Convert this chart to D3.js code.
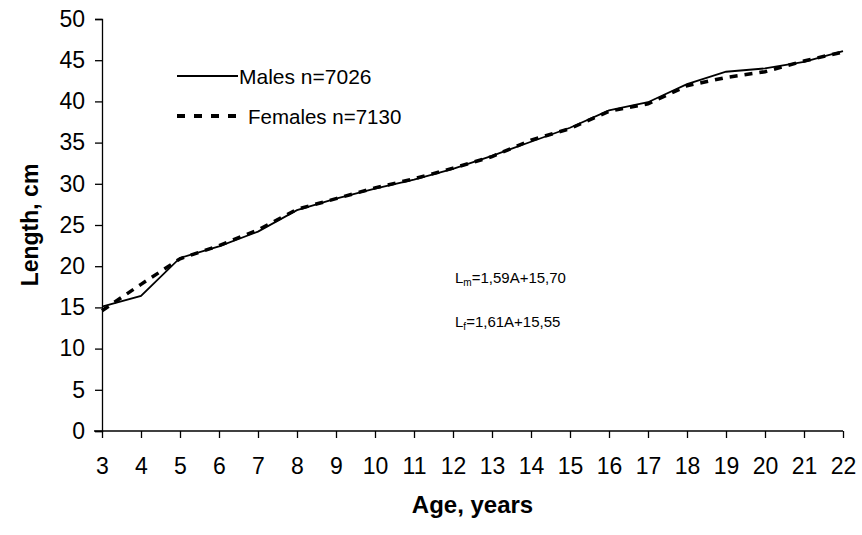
<!DOCTYPE html>
<html>
<head>
<meta charset="utf-8">
<script src="https://cdn.jsdelivr.net/npm/d3@7"></script>
<style>
  body { margin: 0; background: white; }
  text { font-family: "Liberation Sans", Arial, sans-serif; fill: black; }
</style>
</head>
<body>
<svg id="chart" width="862" height="535"></svg>
<script>
// ages on the x axis
const ages = [3, 4, 5, 6, 7, 8, 9, 10, 11, 12, 13, 14, 15, 16, 17, 18, 19, 20, 21, 22];
// mean length, cm
const males = [15.1, 16.4, 21.0, 22.4, 24.2, 26.8, 28.2, 29.4, 30.5, 31.8, 33.4, 35.1, 36.8, 38.9, 39.9, 42.1, 43.6, 44.0, 44.8, 46.1];
const females = [14.6, 17.8, 20.9, 22.5, 24.4, 26.9, 28.2, 29.5, 30.6, 31.9, 33.3, 35.3, 36.7, 38.8, 39.7, 41.9, 42.9, 43.6, 44.9, 46.0];
const yTicks = [0, 5, 10, 15, 20, 25, 30, 35, 40, 45, 50];
const legendLabels = ["Males n=7026", "Females n=7130"];

const svg = d3.select("#chart");
const margin = { top: 19, right: 19, bottom: 104, left: 102 };
const width = 862, height = 535;

const x = d3.scaleLinear()
    .domain([3, 22])
    .range([margin.left, width - margin.right]);

const y = d3.scaleLinear()
    .domain([0, 50])
    .range([height - margin.bottom, margin.top]);

// y axis
const yAxis = svg.append("g")
    .attr("transform", `translate(${margin.left},0)`)
    .call(d3.axisLeft(y).tickValues(yTicks).tickSize(7).tickPadding(10));
yAxis.selectAll("text").style("font-size", "23px").attr("fill", "black");
yAxis.selectAll("line, path").attr("stroke", "black").attr("stroke-width", 1.3);

// x axis
const xAxis = svg.append("g")
    .attr("transform", `translate(0,${y(0)})`)
    .call(d3.axisBottom(x).tickValues(ages).tickFormat(d3.format("d")).tickSize(7).tickPadding(20));
xAxis.selectAll("text").style("font-size", "23px").attr("fill", "black");
xAxis.selectAll("line, path").attr("stroke", "black").attr("stroke-width", 1.3);
xAxis.select("path").attr("d", `M${margin.left - 8},0H${width - margin.right}`);

// axis titles
svg.append("text")
    .attr("x", (margin.left + width - margin.right) / 2)
    .attr("y", 513)
    .attr("text-anchor", "middle")
    .style("font-size", "24px")
    .style("font-weight", "bold")
    .text("Age, years");

svg.append("text")
    .attr("transform", `translate(38,${(y(0) + y(50)) / 2}) rotate(-90)`)
    .attr("text-anchor", "middle")
    .style("font-size", "23px")
    .style("font-weight", "bold")
    .text("Length, cm");

// lines
const line = d3.line()
    .x((d, i) => x(ages[i]))
    .y(d => y(d));

svg.append("path")
    .datum(males)
    .attr("fill", "none")
    .attr("stroke", "black")
    .attr("stroke-width", 1.8)
    .attr("d", line);

svg.append("path")
    .datum(females)
    .attr("fill", "none")
    .attr("stroke", "black")
    .attr("stroke-width", 3.5)
    .attr("stroke-dasharray", "8,7")
    .attr("d", line);

// legend
const legend = svg.append("g");
legend.append("line")
    .attr("x1", 177).attr("x2", 238)
    .attr("y1", 76).attr("y2", 76)
    .attr("stroke", "black").attr("stroke-width", 1.8);
legend.append("text")
    .attr("x", 239).attr("y", 84)
    .style("font-size", "21px")
    .text(legendLabels[0]);
legend.append("line")
    .attr("x1", 177).attr("x2", 238)
    .attr("y1", 116).attr("y2", 116)
    .attr("stroke", "black").attr("stroke-width", 4)
    .attr("stroke-dasharray", "8,9");
legend.append("text")
    .attr("x", 248).attr("y", 124)
    .style("font-size", "20.5px")
    .text(legendLabels[1]);

// regression equations
const eq = [["m", "=1,59A+15,70", 283], ["f", "=1,61A+15,55", 327]];
eq.forEach(([sub, rest, yy]) => {
  const t = svg.append("text")
      .attr("x", 455).attr("y", yy)
      .style("font-size", "15px");
  t.append("tspan").text("L");
  t.append("tspan").attr("dy", 3).style("font-size", "10px").text(sub);
  t.append("tspan").attr("dy", -3).text(rest);
});
</script>
</body>
</html>
